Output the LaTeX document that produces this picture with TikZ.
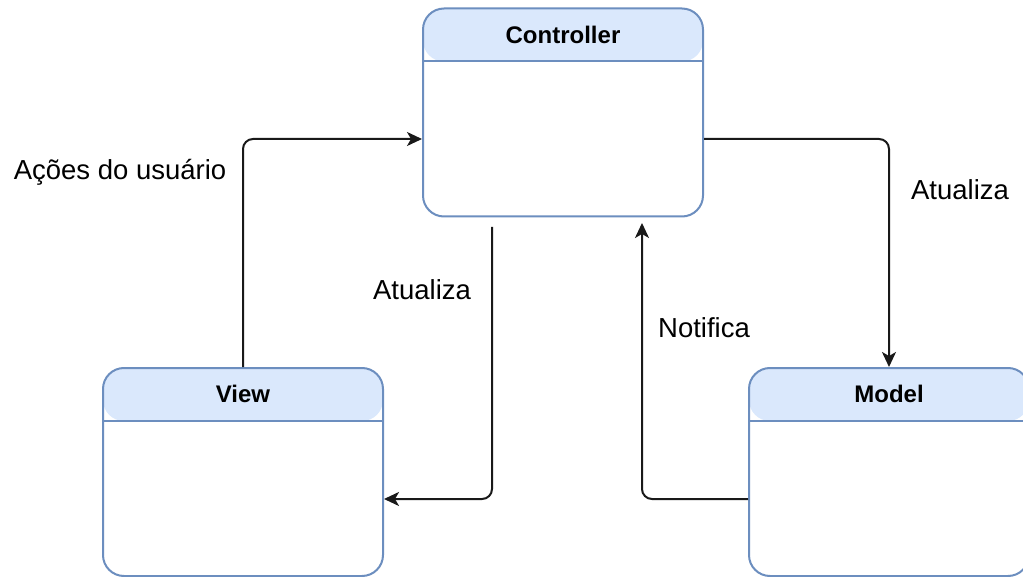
\documentclass[tikz,border=0pt]{standalone}
\usepackage{fontspec}
\setmainfont{Liberation Sans}
\usetikzlibrary{arrows.meta}
\definecolor{hdrfill}{HTML}{DAE8FC}
\definecolor{hdrline}{HTML}{6C8EBF}
\begin{document}
\begin{tikzpicture}[x=1pt,y=-1pt,
  mvcbox/.style={draw=hdrline, line width=2pt, fill=white, rounded corners=21pt,
    minimum width=280pt, minimum height=208pt, inner sep=0pt,
    path picture={
      \fill[hdrfill] (path picture bounding box.north west) rectangle ([yshift=-53pt]path picture bounding box.north east);
      \draw[hdrline, line width=2pt] ([yshift=-53pt]path picture bounding box.north west) -- ([yshift=-53pt]path picture bounding box.north east);
    }},
  boxtitle/.style={font=\bfseries\fontsize{24}{28}\selectfont, inner sep=0pt, anchor=center},
  lbl/.style={font=\fontsize{27.5}{32}\selectfont, inner sep=0pt, anchor=center},
  arr/.style={draw=black!90, line width=2pt, rounded corners=10pt, -{Stealth[length=15pt,width=14pt,inset=4pt]}},
  plain/.style={draw=black!90, line width=2pt, rounded corners=10pt}
]
\useasboundingbox (0,0) rectangle (1023,577);
\node[mvcbox] (c) at (563,112.5) {};
\node[mvcbox] (v) at (243,472) {};
\node[mvcbox] (m) at (889,472) {};
\node[boxtitle] (ct) at ([yshift=-27pt]c.north) {Controller};
\node[boxtitle] (vt) at ([yshift=-27pt]v.north) {View};
\node[boxtitle] (mt) at ([yshift=-27pt]m.north) {Model};

\coordinate (s1) at (492,227);
\coordinate (s2) at (642,223);

\draw[arr] (v.north) |- ([yshift=-26.5pt]c.west);
\draw[arr] (s1) |- ([yshift=-27pt]v.east);
\draw[arr] ([yshift=-26.5pt]c.east) -| (m.north);
\draw[arr] ([yshift=-27pt]m.west) -| (s2);

\node[lbl] (l1) at (120,172) {Ações do usuário};
\node[lbl] (l2) at (422,290) {Atualiza};
\node[lbl] (l3) at (960,190) {Atualiza};
\node[lbl] (l4) at (704,328) {Notifica};
\end{tikzpicture}
\end{document}
